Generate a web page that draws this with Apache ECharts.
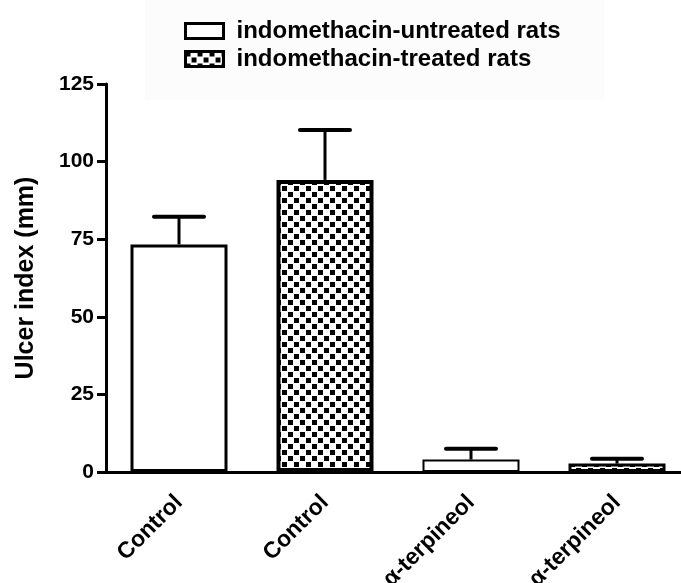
<!DOCTYPE html>
<html>
<head>
<meta charset="utf-8">
<script src="https://cdn.jsdelivr.net/npm/echarts@6/dist/echarts.min.js"></script>
<style>
html,body{margin:0;padding:0;background:#fff;}
#main{width:681px;height:583px;}
</style>
</head>
<body>
<div id="main"></div>
<script>
var categories = ['Control', 'Control', '\u03b1-terpineol', '\u03b1-terpineol'];
var seriesNames = ['indomethacin-untreated rats', 'indomethacin-treated rats'];
var untreatedMean = [73.3, '-', 4.0, '-'];
var treatedMean = ['-', 94.1, '-', 2.7];
var untreatedSem = [8.9, '-', 3.5, '-'];
var treatedSem = ['-', 16.1, '-', 1.6];
var yTicks = [0, 25, 50, 75, 100, 125];

var FONT = '"Liberation Sans", Arial, sans-serif';

// checkerboard pattern
var pc = document.createElement('canvas');
pc.width = 12; pc.height = 12;
var pctx = pc.getContext('2d');
pctx.fillStyle = '#fff'; pctx.fillRect(0, 0, 12, 12);
pctx.fillStyle = '#000';
pctx.fillRect(0, 0, 5, 5);
pctx.fillRect(6, 6, 5, 5);
var checker = { image: pc, repeat: 'repeat' };

var chart = echarts.init(document.getElementById('main'), null, { renderer: 'canvas' });

function barData(arr, widths) {
  return arr.map(function (v, i) {
    if (v === '-') return '-';
    return { value: v, itemStyle: { borderWidth: widths[i] } };
  });
}

function errData(mean, sem) {
  var out = [];
  for (var i = 0; i < mean.length; i++) {
    if (mean[i] !== '-') out.push([i, mean[i], sem[i]]);
  }
  return out;
}

function renderErr(params, api) {
  var x = api.value(0), m = api.value(1), s = api.value(2);
  var p0 = api.coord([x, m]);
  var p1 = api.coord([x, m + s]);
  return {
    type: 'group',
    children: [
      { type: 'line', shape: { x1: p0[0], y1: p0[1], x2: p1[0], y2: p1[1] }, style: { stroke: '#000', lineWidth: 3 } },
      { type: 'line', shape: { x1: p1[0] - 25, y1: p1[1], x2: p1[0] + 25, y2: p1[1] }, style: { stroke: '#000', lineWidth: 4, lineCap: 'round' } }
    ]
  };
}

var option = {
  animation: false,
  backgroundColor: '#fff',
  graphic: [{
    type: 'rect', left: 145, top: 0, z: -10,
    shape: { width: 460, height: 100 },
    style: { fill: '#fcfcfc' }
  }],
  legend: {
    orient: 'vertical',
    left: 179, top: 14,
    icon: 'rect',
    itemWidth: 38, itemHeight: 15,
    itemGap: 4,
    selectedMode: false,
    data: seriesNames,
    itemStyle: { borderColor: '#000', borderWidth: 3 },
    textStyle: { fontFamily: FONT, fontWeight: 'bold', fontSize: 24, color: '#000', padding: [0, 0, 0, 8] }
  },
  grid: { left: 106, top: 84, width: 584, height: 388, containLabel: false, outerBoundsMode: 'none' },
  xAxis: {
    type: 'category',
    data: categories,
    axisLine: { lineStyle: { color: '#000', width: 3 } },
    axisTick: { show: false },
    axisLabel: { rotate: 45, margin: 27, interval: 0, fontFamily: FONT, fontWeight: 'bold', fontSize: 23, color: '#000' }
  },
  yAxis: {
    type: 'value',
    min: yTicks[0], max: yTicks[yTicks.length - 1], interval: 25,
    name: 'Ulcer index (mm)',
    nameLocation: 'middle',
    nameGap: 67,
    nameTextStyle: { fontFamily: FONT, fontWeight: 'bold', fontSize: 25, color: '#000' },
    splitLine: { show: false },
    axisLine: { show: true, lineStyle: { color: '#000', width: 3 } },
    axisTick: { show: true, length: 9, lineStyle: { color: '#000', width: 3 } },
    axisLabel: { margin: 12, fontFamily: FONT, fontWeight: 'bold', fontSize: 21, color: '#000' }
  },
  series: [
    {
      name: seriesNames[0], type: 'bar',
      data: barData(untreatedMean, [3, 0, 2, 0]),
      barWidth: 97, barGap: '-100%',
      itemStyle: { color: '#fff', borderColor: '#000', borderWidth: 3 }
    },
    {
      name: seriesNames[1], type: 'bar',
      data: barData(treatedMean, [0, 4, 0, 3]),
      barWidth: 97, barGap: '-100%',
      itemStyle: { color: checker, borderColor: '#000', borderWidth: 4 }
    },
    {
      type: 'custom', renderItem: renderErr, z: 5,
      data: errData(untreatedMean, untreatedSem).concat(errData(treatedMean, treatedSem)),
      encode: { x: 0, y: 1 }, silent: true
    }
  ]
};
chart.setOption(option);
</script>
</body>
</html>
